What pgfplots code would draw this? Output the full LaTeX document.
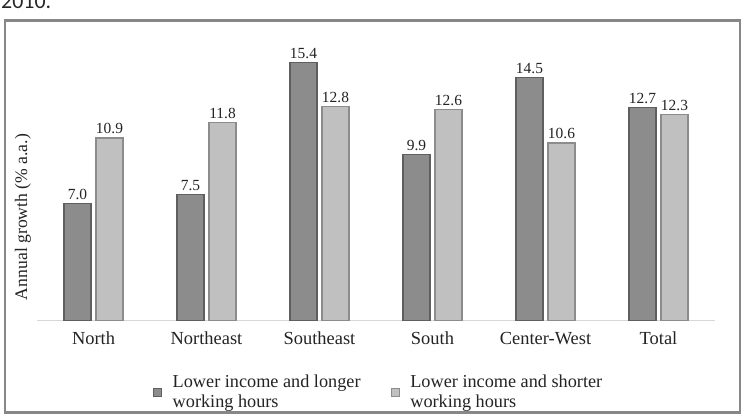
\documentclass[border=0pt]{standalone}
\usepackage{pgfplots}
\pgfplotsset{compat=1.18}
\usepackage{fontspec}
\setmainfont{Liberation Serif}
\newfontfamily\calibri{Carlito}
\definecolor{darkbar}{RGB}{140,140,140}
\definecolor{darkedge}{RGB}{95,95,95}
\definecolor{lightbar}{RGB}{192,192,192}
\definecolor{lightedge}{RGB}{140,140,140}
\definecolor{framegray}{RGB}{135,135,135}
\definecolor{axisgray}{RGB}{215,215,215}
\definecolor{txt}{RGB}{35,35,35}
\begin{document}
\begin{tikzpicture}[x=1bp,y=1bp]
\begin{axis}[
  at={(37bp,-320.5bp)}, anchor=south west,
  scale only axis, width=678bp, height=268bp,
  xmin=0.5, xmax=6.5, ymin=0, ymax=16,
  clip=false,
  axis x line*=bottom, axis y line=none,
  x axis line style={draw=axisgray, line width=1.2bp},
  xtick={1,2,3,4,5,6},
  xticklabels={North,Northeast,Southeast,South,Center-West,Total},
  major tick length=0pt,
  xticklabel style={anchor=base, yshift=-23.5bp, inner sep=0pt, font=\fontsize{18.5}{20}\selectfont, text=txt},
  ybar=5bp, bar width=27bp,
  /pgf/number format/assume math mode=true,
  nodes near coords={\pgfmathprintnumber[fixed,fixed zerofill,precision=1]{\pgfplotspointmeta}},
  nodes near coords style={font=\fontsize{15.5}{16}\selectfont, text=txt, inner sep=0pt, anchor=base, yshift=4bp},
  legend columns=2,
  legend style={at={(0.171,-0.2668)}, anchor=west, draw=none, fill=none, inner sep=0pt, outer sep=0pt,
    font=\fontsize{18.3}{20}\selectfont, text=txt,
    nodes={inner sep=0pt, align=left},
    /tikz/every odd column/.append style={column sep=11bp},
    /tikz/every even column/.append style={column sep=30bp}},
]
\addplot[fill=darkbar, draw=darkedge, line width=1.2bp,
  legend image code/.code={\draw[fill=darkbar, draw=darkedge, line width=0.8bp] (0bp,-4bp) rectangle (8bp,4bp);}]
  coordinates {(1,7.0) (2,7.5) (3,15.4) (4,9.9) (5,14.5) (6,12.7)};
\addlegendentry{Lower income and longer\\working hours}
\addplot[fill=lightbar, draw=lightedge, line width=1.2bp,
  legend image code/.code={\draw[fill=lightbar, draw=lightedge, line width=0.8bp] (0bp,-4bp) rectangle (8bp,4bp);}]
  coordinates {(1,10.9) (2,11.8) (3,12.8) (4,12.6) (5,10.6) (6,12.3)};
\addlegendentry{Lower income and shorter\\working hours}
\end{axis}
\node[anchor=base west, inner sep=0, font=\calibri\fontsize{22}{24}\selectfont, text=black!85] at (1bp,-8bp) {2010.};
\draw[framegray, line width=2.5bp] (5bp,-20.5bp) rectangle (740bp,-412.5bp);
\node[rotate=90, inner sep=0, font=\fontsize{17.7}{19}\selectfont, text=txt] at (23bp,-217bp) {Annual growth (\% a.a.)};
\pgfresetboundingbox
\useasboundingbox (0bp,0bp) rectangle (749bp,-417bp);
\end{tikzpicture}
\end{document}
